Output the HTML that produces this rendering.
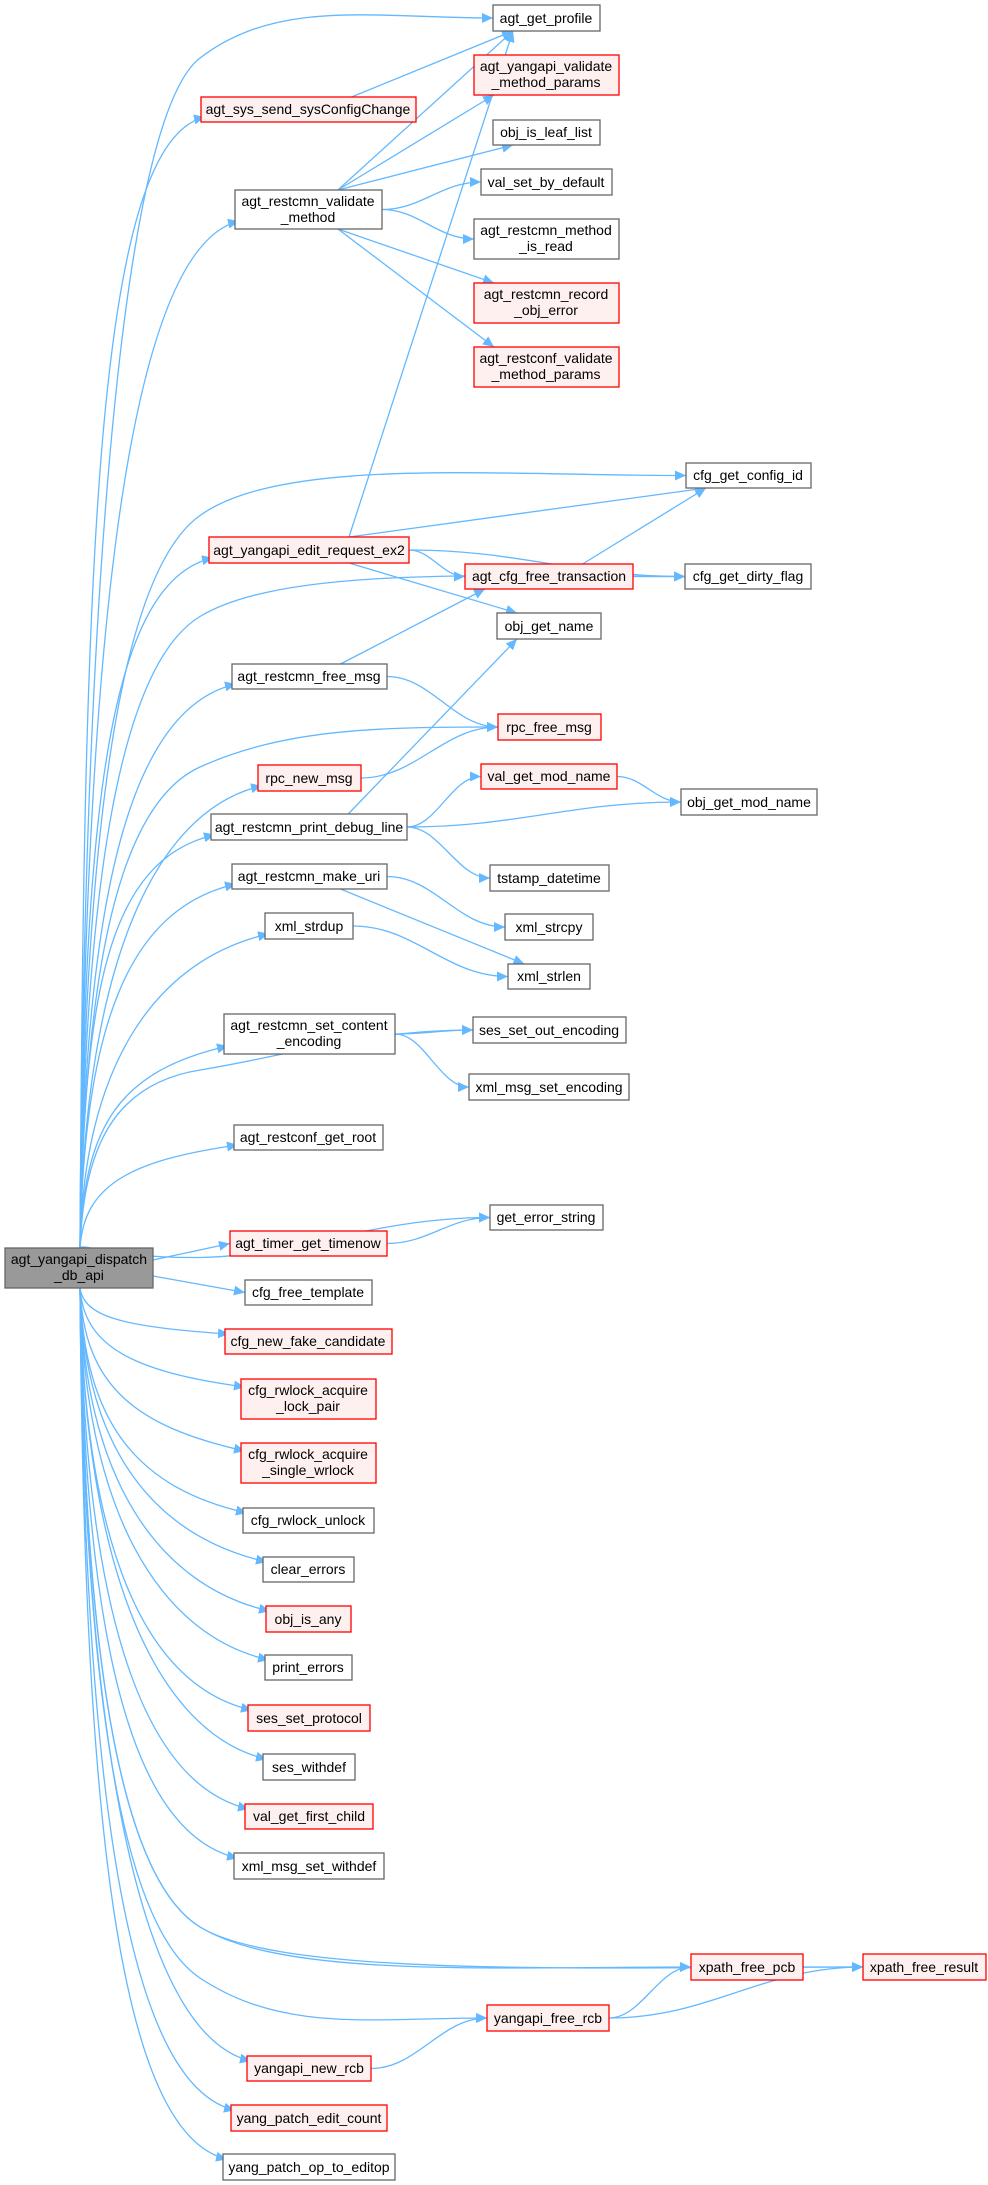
<!DOCTYPE html>
<html><head><meta charset="utf-8">
<style>
html,body{margin:0;padding:0;background:#fff;}
svg{display:block;}
text{font-family:"Liberation Sans",Arial,sans-serif;font-size:14px;fill:#000;text-anchor:middle;}
.n rect{fill:#fff;stroke:#666;stroke-width:1.3;}
.r rect{fill:#fff0f0;stroke:#f00;stroke-width:1.3;}
.m rect{fill:#999;stroke:#666;stroke-width:1.3;}
.e{fill:none;stroke:#63b8ff;stroke-width:1.3;}
</style></head><body>
<svg id="s" width="988" height="2185" viewBox="0 0 988 2185" xmlns="http://www.w3.org/2000/svg">
<defs><marker id="a" markerUnits="userSpaceOnUse" markerWidth="12" markerHeight="10" refX="11" refY="5" orient="auto"><path d="M0,0 L11,5 L0,10 z" fill="#63b8ff"/></marker></defs>
<g id="edges"></g>
<g id="main" class="m"><rect x="5" y="1248" width="148" height="40"/><text x="79" y="1264">agt_yangapi_dispatch</text><text x="79" y="1280">_db_api</text></g>

<g id="sys" class="r"><rect x="201" y="97" width="215" height="25"/><text x="308" y="114">agt_sys_send_sysConfigChange</text></g>
<g id="vm" class="n"><rect x="235" y="190" width="147" height="39"/><text x="308" y="206">agt_restcmn_validate</text><text x="308" y="222">_method</text></g>
<g id="er" class="r"><rect x="209" y="537" width="200" height="26"/><text x="309" y="555">agt_yangapi_edit_request_ex2</text></g>
<g id="fm" class="n"><rect x="232" y="664" width="155" height="25"/><text x="309" y="681">agt_restcmn_free_msg</text></g>
<g id="rnm" class="r"><rect x="258" y="765" width="103" height="26"/><text x="309" y="783">rpc_new_msg</text></g>
<g id="pdl" class="n"><rect x="211" y="814" width="196" height="26"/><text x="309" y="832">agt_restcmn_print_debug_line</text></g>
<g id="mu" class="n"><rect x="232" y="864" width="155" height="25"/><text x="309" y="881">agt_restcmn_make_uri</text></g>
<g id="sd" class="n"><rect x="265" y="913" width="88" height="26"/><text x="309" y="931">xml_strdup</text></g>
<g id="sce" class="n"><rect x="224" y="1014" width="171" height="40"/><text x="309" y="1030">agt_restcmn_set_content</text><text x="309" y="1046">_encoding</text></g>
<g id="gr" class="n"><rect x="234" y="1125" width="149" height="25"/><text x="308" y="1142">agt_restconf_get_root</text></g>
<g id="tg" class="r"><rect x="230" y="1231" width="157" height="25"/><text x="308" y="1248">agt_timer_get_timenow</text></g>
<g id="ft" class="n"><rect x="245" y="1280" width="127" height="25"/><text x="308" y="1297">cfg_free_template</text></g>
<g id="nfc" class="r"><rect x="225" y="1329" width="167" height="25"/><text x="308" y="1346">cfg_new_fake_candidate</text></g>
<g id="lp" class="r"><rect x="241" y="1379" width="135" height="40"/><text x="308" y="1395">cfg_rwlock_acquire</text><text x="308" y="1411">_lock_pair</text></g>
<g id="sw" class="r"><rect x="241" y="1443" width="135" height="40"/><text x="308" y="1459">cfg_rwlock_acquire</text><text x="308" y="1475">_single_wrlock</text></g>
<g id="ru" class="n"><rect x="243" y="1508" width="131" height="25"/><text x="308" y="1525">cfg_rwlock_unlock</text></g>
<g id="ce" class="n"><rect x="263" y="1557" width="91" height="25"/><text x="308" y="1574">clear_errors</text></g>
<g id="oia" class="r"><rect x="266" y="1606" width="85" height="26"/><text x="308" y="1624">obj_is_any</text></g>
<g id="pe" class="n"><rect x="265" y="1655" width="87" height="25"/><text x="308" y="1672">print_errors</text></g>
<g id="ssp" class="r"><rect x="248" y="1705" width="122" height="26"/><text x="309" y="1723">ses_set_protocol</text></g>
<g id="swd" class="n"><rect x="263" y="1754" width="92" height="26"/><text x="309" y="1772">ses_withdef</text></g>
<g id="vfc" class="r"><rect x="245" y="1804" width="128" height="25"/><text x="309" y="1821">val_get_first_child</text></g>
<g id="xsw" class="n"><rect x="234" y="1853" width="150" height="26"/><text x="309" y="1871">xml_msg_set_withdef</text></g>
<g id="ynr" class="r"><rect x="247" y="2056" width="124" height="25"/><text x="309" y="2073">yangapi_new_rcb</text></g>
<g id="ypc" class="r"><rect x="231" y="2105" width="156" height="26"/><text x="309" y="2123">yang_patch_edit_count</text></g>
<g id="ype" class="n"><rect x="223" y="2154" width="172" height="26"/><text x="309" y="2172">yang_patch_op_to_editop</text></g>

<g id="gp" class="n"><rect x="493" y="5" width="107" height="26"/><text x="546" y="23">agt_get_profile</text></g>
<g id="yvm" class="r"><rect x="474" y="55" width="145" height="40"/><text x="546" y="71">agt_yangapi_validate</text><text x="546" y="87">_method_params</text></g>
<g id="ill" class="n"><rect x="493" y="120" width="107" height="25"/><text x="546" y="137">obj_is_leaf_list</text></g>
<g id="vsd" class="n"><rect x="481" y="169" width="131" height="26"/><text x="546" y="187">val_set_by_default</text></g>
<g id="mir" class="n"><rect x="474" y="219" width="145" height="40"/><text x="546" y="235">agt_restcmn_method</text><text x="546" y="251">_is_read</text></g>
<g id="roe" class="r"><rect x="474" y="283" width="145" height="40"/><text x="546" y="299">agt_restcmn_record</text><text x="546" y="315">_obj_error</text></g>
<g id="rvm" class="r"><rect x="474" y="347" width="145" height="40"/><text x="546" y="363">agt_restconf_validate</text><text x="546" y="379">_method_params</text></g>
<g id="cft" class="r"><rect x="465" y="564" width="168" height="25"/><text x="549" y="581">agt_cfg_free_transaction</text></g>
<g id="ogn" class="n"><rect x="497" y="613" width="104" height="26"/><text x="549" y="631">obj_get_name</text></g>
<g id="rfm" class="r"><rect x="498" y="714" width="103" height="26"/><text x="549" y="732">rpc_free_msg</text></g>
<g id="vmn" class="r"><rect x="481" y="764" width="136" height="25"/><text x="549" y="781">val_get_mod_name</text></g>
<g id="tsd" class="n"><rect x="490" y="865" width="119" height="26"/><text x="549" y="883">tstamp_datetime</text></g>
<g id="scp" class="n"><rect x="505" y="914" width="88" height="26"/><text x="549" y="932">xml_strcpy</text></g>
<g id="sl" class="n"><rect x="508" y="964" width="82" height="25"/><text x="549" y="981">xml_strlen</text></g>
<g id="soe" class="n"><rect x="473" y="1017" width="153" height="26"/><text x="549" y="1035">ses_set_out_encoding</text></g>
<g id="xse" class="n"><rect x="469" y="1074" width="160" height="26"/><text x="549" y="1092">xml_msg_set_encoding</text></g>
<g id="ges" class="n"><rect x="490" y="1205" width="113" height="25"/><text x="546" y="1222">get_error_string</text></g>
<g id="yfr" class="r"><rect x="487" y="2005" width="122" height="26"/><text x="548" y="2023">yangapi_free_rcb</text></g>

<g id="cid" class="n"><rect x="686" y="463" width="125" height="25"/><text x="748" y="480">cfg_get_config_id</text></g>
<g id="cdf" class="n"><rect x="685" y="564" width="126" height="25"/><text x="748" y="581">cfg_get_dirty_flag</text></g>
<g id="omn" class="n"><rect x="681" y="789" width="136" height="26"/><text x="749" y="807">obj_get_mod_name</text></g>
<g id="xfp" class="r"><rect x="691" y="1954" width="112" height="26"/><text x="747" y="1972">xpath_free_pcb</text></g>
<g id="xfr" class="r"><rect x="863" y="1954" width="123" height="26"/><text x="924" y="1972">xpath_free_result</text></g>
</svg>
<script>
(function(){
var NS="http://www.w3.org/2000/svg",eg=document.getElementById("edges");
function R(id){var r=document.querySelector("#"+id+" rect");return {x:+r.getAttribute("x"),y:+r.getAttribute("y"),w:+r.getAttribute("width"),h:+r.getAttribute("height")};}
function P(d){var p=document.createElementNS(NS,"path");p.setAttribute("d",d);p.setAttribute("class","e");p.setAttribute("marker-end","url(#a)");eg.appendChild(p);}
var mainT=["gp","sys","vm","er","cid","cdf","fm","rfm","rnm","pdl","mu","sd","soe","sce","gr","ges"];
var mainB=["nfc","lp","sw","ru","ce","oia","pe","ssp","swd","vfc","xsw","xfr","xfp","yfr","ynr","ypc","ype"];
function mainEdge(id,up){var t=R(id),tx=t.x,ty=t.y+t.h/2;
 var far=tx>420;
 var sx=80,sy=up?1248:1288,sg=up?-1:1;
 if(!far){
  tx=t.x+4;ty=up?t.y+t.h*0.8:t.y+t.h*0.2;
  var dy=Math.abs(sy-ty);
  P("M"+sx+","+sy+" C84,"+(sy+sg*0.6*dy)+" "+(tx-110)+","+(ty-sg*Math.min(25,0.15*dy))+" "+tx+","+ty);
  return;
 }
 var my=up?ty+40:ty-40;
 var dy=Math.abs(sy-my);
 var p1=[84,sy+sg*0.55*dy],p2=[110+dy*0.01,my-sg*Math.min(0.08*dy,60)];
 P("M"+sx+","+sy+" C"+p1+" "+p2+" 200,"+my+" S"+(tx-(tx-200)*0.4)+","+ty+" "+tx+","+ty);}
mainT.forEach(function(id){mainEdge(id,true);});
mainB.forEach(function(id){mainEdge(id,false);});
["tg","ft"].forEach(function(id){var t=R(id),ty=t.y+t.h/2;P("M153,"+(id=="tg"?1260:1276)+" L"+t.x+","+ty);});
var E=[["sys","gp"],["vm","gp"],["vm","yvm"],["vm","ill"],["vm","vsd"],["vm","mir"],["vm","roe"],["vm","rvm"],
["er","gp"],["er","cid"],["er","cft"],["er","cdf"],["er","ogn"],["cft","cid"],["cft","cdf"],["fm","cft"],["fm","rfm"],
["rnm","rfm"],["pdl","ogn"],["pdl","vmn"],["pdl","omn"],["pdl","tsd"],["vmn","omn"],["mu","scp"],["mu","sl"],["sd","sl"],
["sce","soe"],["sce","xse"],["tg","ges"],["ynr","yfr"],["yfr","xfp"],["yfr","xfr"],["xfp","xfr"]];
E.forEach(function(e){var s=R(e[0]),t=R(e[1]);var sx=s.x+s.w,sy=s.y+s.h/2,tx=t.x,ty=t.y+t.h/2;
 if(Math.abs(ty-sy)>60){
  if(ty<sy){sx=s.x+s.w*0.7;sy=s.y;tx=t.x+Math.min(20,t.w*0.2);ty=t.y+t.h;}
  else{sx=s.x+s.w*0.7;sy=s.y+s.h;tx=t.x+Math.min(20,t.w*0.2);ty=t.y;}
  P("M"+sx+","+sy+" L"+tx+","+ty);return;
 }
 var dx=(tx-sx)*0.4;P("M"+sx+","+sy+" C"+(sx+dx)+","+sy+" "+(tx-dx)+","+ty+" "+tx+","+ty);});
})();
</script>
</body></html>
